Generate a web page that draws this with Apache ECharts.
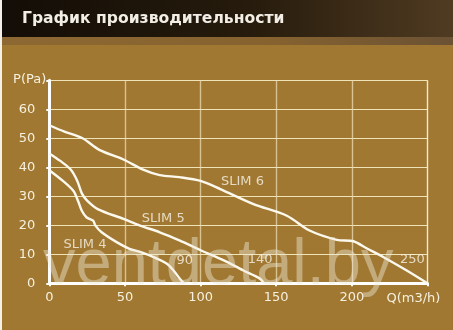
<!DOCTYPE html>
<html><head><meta charset="utf-8">
<script src="https://cdn.jsdelivr.net/npm/echarts@6/dist/echarts.min.js"></script>
<style>html,body{margin:0;padding:0;background:#A07832;} #c{width:453px;height:330px;}</style>
</head><body><div id="c"></div>
<script>
const title = 'График производительности';
const xName = 'Q(m3/h)';
const yName = 'P(Pa)';
const watermark = 'ventdetal.by';

const slim6Q = [0, 10, 22, 33, 49, 62, 73, 86, 100, 113, 135, 157, 172, 190, 201, 210, 221, 236, 250];
const slim6P = [54.5, 52.3, 50, 46, 42.7, 39.2, 37.3, 36.6, 35.3, 32.5, 27.3, 23.3, 18.2, 15, 14.5, 12, 9, 4.5, 0];

const slim5Q = [0, 7, 14, 18.5, 21.5, 25, 32, 49, 60, 73, 86, 100, 115, 128, 139, 142];
const slim5P = [44.8, 42.3, 39.3, 35.3, 31, 28.5, 25.6, 22.2, 19.9, 17.6, 14.8, 11.4, 8, 4.5, 1.7, 0];

const slim4Q = [0, 9, 16, 19, 21.5, 24.7, 29, 30.5, 34.6, 44.5, 53, 60, 68.6, 77.5, 82, 87, 89];
const slim4P = [39, 35.3, 31.8, 28.4, 25, 22.7, 21.6, 19.9, 17.6, 14.2, 11.9, 10.8, 9.1, 6.8, 4.5, 1.1, 0];

const labelText = ['SLIM 6', 'SLIM 5', 'SLIM 4', '90', '140', '250'];
const labelQ = [127.7, 75.3, 23.6, 89.6, 139.3, 240];
const labelP = [35, 22.4, 13.3, 7.7, 8, 8];

const zip = (q, p) => q.map((v, i) => [v, p[i]]);
const chart = echarts.init(document.getElementById('c'), null, {renderer: 'canvas'});
const lineCommon = {type: 'line', smooth: 0.3, symbol: 'none', lineStyle: {color: '#fbf8ee', width: 2.4}, z: 5};
const FONT = 'DejaVu Sans';
chart.setOption({
  backgroundColor: '#A07832',
  animation: false,
  grid: {left: 49.3, right: 25.5, top: 80.3, bottom: 46.7},
  xAxis: {
    type: 'value', min: 0, max: 250, interval: 50,
    name: xName, nameLocation: 'end', nameGap: -41,
    nameTextStyle: {color: '#f6f0de', fontFamily: FONT, fontSize: 13, align: 'left', verticalAlign: 'top', padding: [9, 0, 0, 0]},
    axisLine: {show: true, lineStyle: {color: '#ffffff', width: 3}},
    axisTick: {show: true, length: 3, lineStyle: {color: '#ffffff', width: 2}},
    axisLabel: {color: '#f6f0de', fontFamily: FONT, fontSize: 13, margin: 8,
      formatter: v => v === 250 ? '' : String(v)},
    splitLine: {show: true, lineStyle: {color: ['#ffffff', 'rgba(240,225,185,0.7)', 'rgba(240,225,185,0.7)', 'rgba(240,225,185,0.7)', 'rgba(235,215,170,0.8)', '#f3ead0'], width: 1.4}}
  },
  yAxis: {
    type: 'value', min: 0, max: 70, interval: 10,
    name: yName, nameLocation: 'end', nameGap: 1,
    nameTextStyle: {color: '#f6f0de', fontFamily: FONT, fontSize: 13, align: 'right', verticalAlign: 'middle', padding: [0, 3, 0, 0]},
    axisLine: {show: true, lineStyle: {color: '#ffffff', width: 3}},
    axisTick: {show: true, length: 3, lineStyle: {color: '#ffffff', width: 2}},
    axisLabel: {color: '#f6f0de', fontFamily: FONT, fontSize: 13, margin: 14,
      formatter: v => v === 70 ? '' : String(v)},
    splitLine: {show: true, lineStyle: {color: '#efe4b8', width: 1}}
  },
  graphic: [
    {type: 'rect', left: 0, top: 0, z: -10, shape: {width: 453, height: 37},
      style: {fill: new echarts.graphic.LinearGradient(0, 0, 1, 0, [
        {offset: 0, color: '#130d07'}, {offset: 0.55, color: '#261b0c'}, {offset: 1, color: '#503b22'}])}},
    {type: 'rect', left: 0, top: 37, z: -10, shape: {width: 453, height: 8},
      style: {fill: new echarts.graphic.LinearGradient(0, 0, 1, 0, [
        {offset: 0, color: '#8d6832'}, {offset: 0.6, color: '#86622f'}, {offset: 1, color: '#6b5234'}])}},
    {type: 'rect', left: 0, top: 0, z: -9, shape: {width: 2, height: 330}, style: {fill: '#f4f0e8'}},
    {type: 'text', left: 22, top: 10.5, z: 10,
      style: {text: title, fill: '#f2eee6', font: 'bold 15.6px "DejaVu Sans"'}},
    {type: 'text', x: 43, y: 266, z: 100,
      style: {text: watermark, fill: 'rgba(240,232,215,0.45)', font: '65px "Liberation Sans"', textVerticalAlign: 'middle'}}
  ],
  series: [
    Object.assign({name: 'SLIM 6', data: zip(slim6Q, slim6P)}, lineCommon),
    Object.assign({name: 'SLIM 5', data: zip(slim5Q, slim5P)}, lineCommon),
    Object.assign({name: 'SLIM 4', data: zip(slim4Q, slim4P)}, lineCommon),
    {type: 'scatter', symbolSize: 0, z: 6,
      data: labelQ.map((q, i) => ({value: [q, labelP[i]], name: labelText[i]})),
      label: {show: true, position: 'inside', formatter: '{b}', color: '#f8f3e6', fontFamily: FONT, fontSize: 13}}
  ]
});
</script></body></html>
